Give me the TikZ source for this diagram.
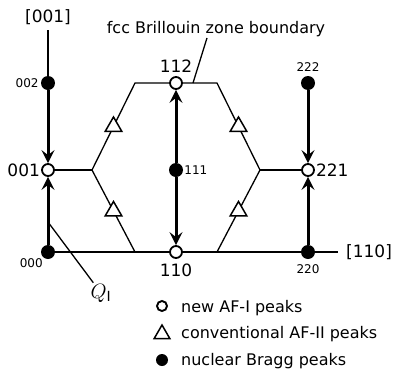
\documentclass[tikz,border=0pt]{standalone}
\usepackage{fontspec}
\setmainfont{DejaVu Sans}
\usepackage{tikz}
\usetikzlibrary{positioning,arrows.meta,shapes.geometric,calc}

\begin{document}
\begin{tikzpicture}[x=1pt, y=-1pt,
  pico/.style={circle, draw, fill=white, line width=1.8pt,
    minimum size=12pt, inner sep=0pt},
  bragg/.style={circle, fill=black, minimum size=14pt, inner sep=0pt},
  tri/.style={regular polygon, regular polygon sides=3, draw, fill=white,
    line width=1.5pt, minimum size=19pt, inner sep=0pt},
  linea/.style={line width=1.3pt},
  flecha/.style={line width=3pt,
    -{Stealth[length=13pt, width=13pt, inset=5pt]}},
  grande/.style={font=\fontsize{17}{19}\selectfont, inner sep=1pt},
  texto/.style={font=\fontsize{16}{18}\selectfont, inner sep=1pt},
  chica/.style={font=\fontsize{12}{14}\selectfont, inner sep=1pt},
]
  \useasboundingbox (0,0) rectangle (394,370);
  % ---- Borde de la zona (antes de los picos) ----
  \coordinate (zi)  at (92,170);
  \coordinate (zsi) at (135,83);
  \coordinate (zsd) at (217,83);
  \coordinate (zd)  at (260,170);
  \coordinate (zid) at (217,252);
  \coordinate (zii) at (135,252);
  \draw[linea] (zii) -- (zi) -- (zsi) -- (zsd) -- (zd) -- (zid);
  % ---- Picos ----
  \node[bragg] (p000) at (48,252) {};
  \node[pico]  (p001) at (48,170) {};
  \node[bragg] (p002) at (48,83) {};
  \node[pico]  (p110) at (176,252) {};
  \node[bragg] (p111) at (176,170) {};
  \node[pico]  (p112) at (176,83) {};
  \node[bragg] (p220) at (308,252) {};
  \node[pico]  (p221) at (308,170) {};
  \node[bragg] (p222) at (308,83) {};
  % AF-II en la mitad de cada lado
  \node[tri] (t1) at ($(zi)!.5!(zsi)$) {};
  \node[tri] (t2) at ($(zi)!.5!(zii)$) {};
  \node[tri] (t3) at ($(zd)!.5!(zsd)$) {};
  \node[tri] (t4) at ($(zd)!.5!(zid)$) {};
  % ---- Ejes ----
  \coordinate (ejez) at (48,30);
  \coordinate (ejex) at (338,252);
  \draw[linea] (ejez) -- (p002);
  \draw[linea] (p000) -- (p110);
  \draw[linea] (p110) -- (p220);
  \draw[linea] (p220) -- (ejex);
  \draw[linea] (p001) -- (zi);
  \draw[linea] (zd) -- (p221);
  \node[grande, above=4pt of ejez] (l001) {[001]};
  \node[grande, right=7pt of ejex] (l110) {[110]};
  % ---- Flechas ----
  \draw[flecha] (p002) -- (p001);
  \draw[flecha] (p000) -- (p001);
  \draw[flecha] (p111) -- (p112);
  \draw[flecha] (p111) -- (p110);
  \draw[flecha] (p222) -- (p221);
  \draw[flecha] (p220) -- (p221);
  % ---- Indices ----
  \node[chica, left=1pt of p002] (e002) {002};
  \node[grande, left=0pt of p001] (e001) {001};
  \node[chica, below left=0pt and -1pt of p000] (e000) {000};
  \node[grande, below=4pt of p110] (e110) {110};
  \node[chica, right=0pt of p111] (e111) {111};
  \node[grande, above=2pt of p112] (e112) {112};
  \node[chica, above=3pt of p222] (e222) {222};
  \node[grande, right=0pt of p221] (e221) {221};
  \node[chica, below=4pt of p220] (e220) {220};
  % Zona de Brillouin y Q_I
  \node[texto] (fcc) at (216,29) {fcc Brillouin zone boundary};
  \coordinate (zb) at (193,83);
  \draw[linea] ([xshift=-9pt]fcc.south) -- (zb);
  \coordinate (qa) at (48,222);
  \node[font=\fontsize{20}{22}\selectfont, inner sep=1pt] (qi) at (101,293)
    {$Q_\mathrm{I}$};
  \draw[linea] (qa) -- (qi);
  % ---- Leyenda ----
  \node[pico, minimum size=10pt, line width=1.9pt] (lc) at (162,306) {};
  \node[tri, minimum size=18pt] (lt) at (162,334) {};
  \node[bragg, minimum size=12pt] (lb) at (162,360) {};
  \node[texto, anchor=base west] (tc) at (180,312) {new AF-I peaks};
  \node[texto, anchor=base west] (tt) at (180,338.5) {conventional AF-II peaks};
  \node[texto, anchor=base west] (tb) at (180,365) {nuclear Bragg peaks};
\end{tikzpicture}
\end{document}
